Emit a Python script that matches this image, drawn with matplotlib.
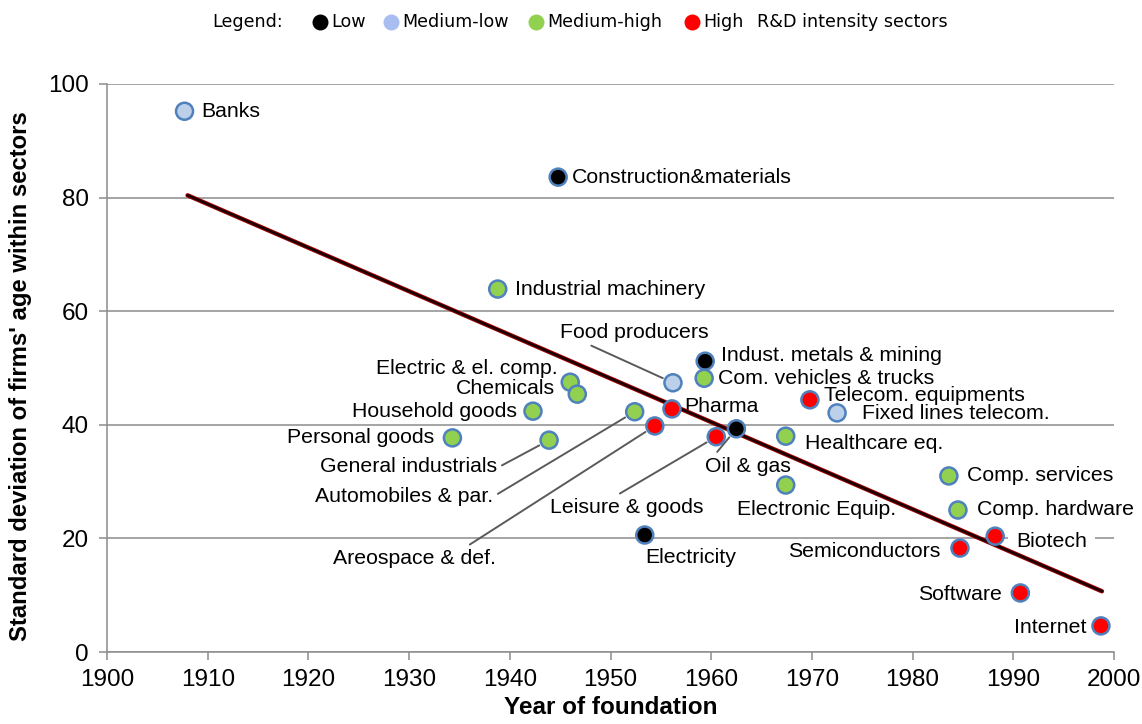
import numpy as np
import matplotlib
matplotlib.use("Agg")
import matplotlib.pyplot as plt

# sectors: year of foundation vs st. dev. of firms' age
sectors = ["Banks", "Construction&materials", "Industrial machinery", "Food producers",
           "Indust. metals & mining", "Com. vehicles & trucks", "Electric & el. comp.",
           "Chemicals", "Household goods", "Personal goods", "General industrials",
           "Automobiles & par.", "Areospace & def.", "Pharma", "Leisure & goods",
           "Oil & gas", "Electricity", "Telecom. equipments", "Fixed lines telecom.",
           "Healthcare eq.", "Electronic Equip.", "Comp. services", "Comp. hardware",
           "Biotech", "Semiconductors", "Software", "Internet"]
year = [1907.7, 1944.8, 1938.8, 1956.2, 1959.4, 1959.3, 1946.0, 1946.7, 1942.3, 1934.3,
        1943.9, 1952.4, 1954.4, 1956.1, 1960.5, 1962.5, 1953.4, 1969.8, 1972.5, 1967.4,
        1967.4, 1983.6, 1984.5, 1988.2, 1984.7, 1990.7, 1998.7]
sd_age = [95.2, 83.6, 63.9, 47.4, 51.2, 48.2, 47.5, 45.4, 42.4, 37.7, 37.3, 42.3, 39.8,
          42.8, 37.9, 39.3, 20.6, 44.4, 42.1, 38.0, 29.4, 31.0, 25.0, 20.4, 18.3, 10.4, 4.6]
intensity = ["medlow", "low", "medhigh", "medlow", "low", "medhigh", "medhigh", "medhigh",
             "medhigh", "medhigh", "medhigh", "medhigh", "high", "high", "high", "low", "low",
             "high", "medlow", "medhigh", "medhigh", "medhigh", "medhigh", "high", "high",
             "high", "high"]

# linear trend (endpoints)
trend_x = [1908.0, 1998.8]
trend_y = [80.4, 10.7]

legend_names = ["Low", "Medium-low", "Medium-high", "High"]
colors = {"low": "#000000", "medlow": "#bcd0ea", "medhigh": "#92d050", "high": "#ff0000"}
legend_colors = ["#000000", "#a9bdf0", "#92d050", "#ff0000"]

# label placement: offset in pixels from marker (dx, dy, ha)
offsets = {
    "Banks": (17, 0, "left"), "Construction&materials": (14, 0, "left"),
    "Industrial machinery": (17, 0, "left"), "Indust. metals & mining": (16, 6, "left"),
    "Com. vehicles & trucks": (14, 0, "left"), "Electric & el. comp.": (-13, 14, "right"),
    "Chemicals": (-22, 6, "right"), "Household goods": (-16, 0, "right"),
    "Personal goods": (-18, 0, "right"), "Pharma": (12, 2, "left"),
    "Electricity": (46, -22, "center"), "Telecom. equipments": (14, 4, "left"),
    "Fixed lines telecom.": (25, -1, "left"), "Healthcare eq.": (19, -7, "left"),
    "Electronic Equip.": (31, -24, "center"), "Comp. services": (18, 0, "left"),
    "Comp. hardware": (19, 1, "left"), "Biotech": (21, -5, "left"),
    "Semiconductors": (-20, -3, "right"), "Software": (-18, -2, "right"),
    "Internet": (-14, -2, "right"),
}
# labels with leader lines: text position (data), ha, relpos
leaders = {
    "Food producers": (1952.4, 56.3, "center", (0.15, 0.0)),
    "General industrials": (1938.7, 32.7, "right", (1.0, 0.4)),
    "Automobiles & par.": (1938.3, 27.3, "right", (1.0, 0.5)),
    "Areospace & def.": (1938.6, 16.5, "right", (0.8, 1.0)),
    "Leisure & goods": (1951.6, 25.5, "center", (0.41, 1.0)),
    "Oil & gas": (1963.6, 32.7, "center", (0.1, 1.0)),
}

plt.rcParams["font.family"] = ["Liberation Sans", "DejaVu Sans"]

fig = plt.figure(figsize=(11.42, 7.24), dpi=100)
ax = fig.add_axes([0.0937, 0.0994, 0.8818, 0.7846])

ax.set_xlim(1900, 2000)
ax.set_ylim(0, 100)
ax.set_xticks(np.arange(1900, 2001, 10))
ax.set_yticks(np.arange(0, 101, 20))
ax.yaxis.grid(True, color="#8c8c8c", lw=1.1)
ax.set_axisbelow(True)
for s in ["top", "right"]:
    ax.spines[s].set_visible(False)
for s in ["left", "bottom"]:
    ax.spines[s].set_color("#8c8c8c")
    ax.spines[s].set_linewidth(1.1)
ax.tick_params(axis="both", colors="#8c8c8c", labelcolor="black", labelsize=17.5,
               length=6, width=1.1)
ax.tick_params(axis="x", pad=6)
ax.tick_params(axis="y", pad=7)

ax.set_xlabel("Year of foundation", fontsize=17.5, fontweight="bold", labelpad=4)
ax.set_ylabel("Standard deviation of firms' age within sectors", fontsize=17.2,
              fontweight="bold")
ax.yaxis.set_label_coords(-0.074, 0.486)

# trend line
ax.plot(trend_x, trend_y, color="#a00000", lw=3.2, solid_capstyle="round", zorder=3)
ax.plot(trend_x, trend_y, color="#1a0000", lw=1.8, solid_capstyle="round", zorder=3)

fc = [colors[c] for c in intensity]
ax.scatter(year, sd_age, s=150, c=fc, edgecolors="#4f81bd", linewidths=1.8, zorder=4)

for name, x, y in zip(sectors, year, sd_age):
    if name in offsets:
        dx, dy, ha = offsets[name]
        kw = {}
        if name == "Biotech":
            kw["bbox"] = dict(fc="white", ec="none", pad=6)
        ax.annotate(name, (x, y), xytext=(dx, dy), textcoords="offset pixels",
                    ha=ha, va="center", fontsize=15.3, zorder=2, **kw)
    else:
        tx, ty, ha, rp = leaders[name]
        ax.annotate(name, (x, y), xytext=(tx, ty), textcoords="data", ha=ha,
                    va="center", fontsize=15.3, zorder=2,
                    arrowprops=dict(arrowstyle="-", color="#5a5a5a", lw=1.4,
                                    shrinkA=2, shrinkB=8, relpos=rp))

# legend row at the top
ly = 1 - 22 / 724
lfont = dict(family="DejaVu Sans", fontsize=12.6, va="center")
fig.text(212 / 1142, ly, "Legend:", ha="left", **lfont)
dot_x = [320, 391, 536, 692]
txt_x = [331, 402, 547, 703]
for name, col, dx, tx in zip(legend_names, legend_colors, dot_x, txt_x):
    fig.add_artist(plt.Line2D([dx / 1142], [ly], marker="o", markersize=11.5,
                              color=col, mec="none", transform=fig.transFigure))
    fig.text(tx / 1142, ly, name, ha="left", **lfont)
fig.text(757 / 1142, ly, "R&D intensity sectors", ha="left", **lfont)

fig.savefig("out.png", dpi=100)
